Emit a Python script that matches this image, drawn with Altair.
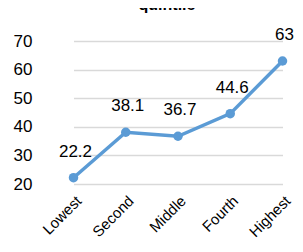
import altair as alt
import pandas as pd

categories = ["Lowest", "Second", "Middle", "Fourth", "Highest"]
values = [22.2, 38.1, 36.7, 44.6, 63]
label_texts = ["22.2", "38.1", "36.7", "44.6", "63"]
y_ticks = [20, 30, 40, 50, 60, 70]

df = pd.DataFrame({"cat": categories, "val": values, "lab": label_texts})

FONT = "Liberation Sans"
BLUE = "#5B9BD5"

x = alt.X("cat:N", sort=categories, title=None,
          scale=alt.Scale(type="point", padding=0, range=[22.5, 231.5]),
          axis=alt.Axis(labelAngle=-45, labelFontSize=15, labelFont=FONT, labelColor="#000000",
                        ticks=False, domain=False, grid=False, labelPadding=9))
y = alt.Y("val:Q", title=None,
          scale=alt.Scale(domain=[20, 70], nice=False, zero=False),
          axis=alt.Axis(values=y_ticks, labelFontSize=17, labelFont=FONT, labelColor="#000000",
                        ticks=False, domain=False, gridColor="#D9D9D9", gridWidth=1.5,
                        labelPadding=19))

base = alt.Chart(df)
line = base.mark_line(color=BLUE, strokeWidth=3.5).encode(x=x, y=y)
pts = base.mark_point(filled=True, color=BLUE, size=90, opacity=1).encode(x=x, y=y)
txt = base.mark_text(font=FONT, fontSize=17, color="#000000", dy=-21, dx=2,
                     baseline="alphabetic").encode(x=x, y=y, text="lab:N")

chart = (line + pts + txt).properties(
    width=244, height=143,
    title=alt.TitleParams("quintile", font=FONT, fontSize=16, fontWeight="bold",
                          color="#000000", anchor="middle", dx=-6, dy=4,
                          baseline="alphabetic"),
    autosize=alt.AutoSizeParams(type="none"),
    padding={"left": 43, "top": 33, "right": 0, "bottom": 58},
).configure_view(stroke=None)

chart.save("out.html", embed_options={"renderer": "svg", "actions": False})
